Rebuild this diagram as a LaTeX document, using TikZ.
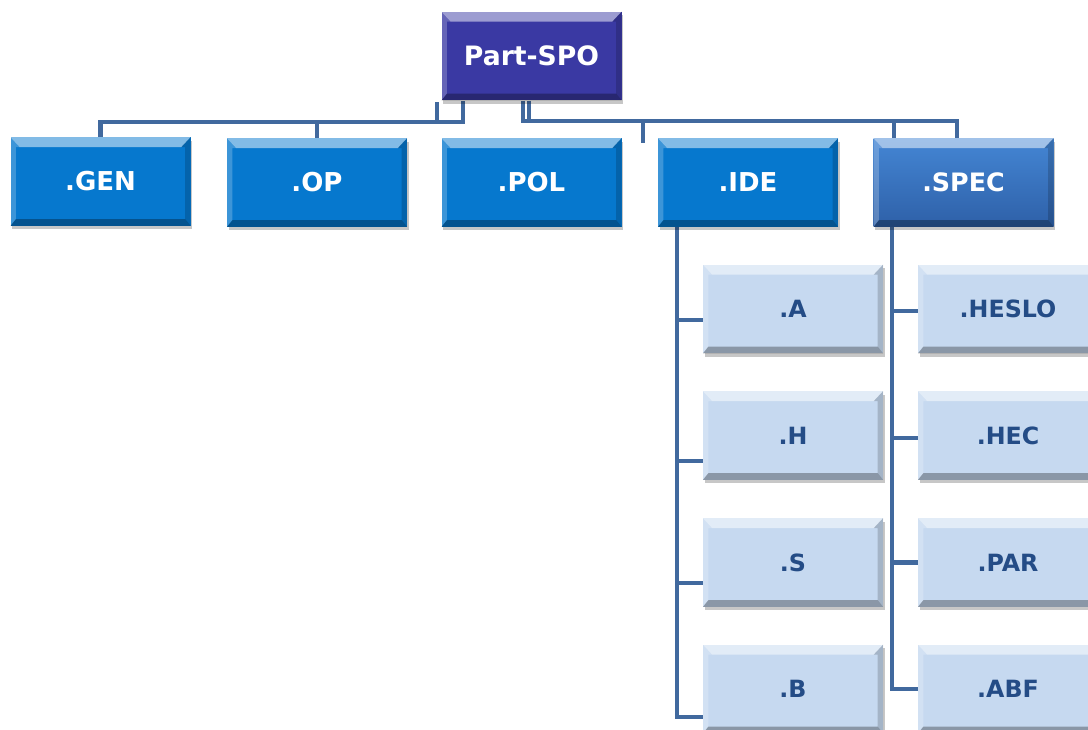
\documentclass[tikz,border=0pt]{standalone}
\usepackage{fontspec}
\setmainfont{DejaVu Sans}
\usetikzlibrary{shadows}
\pgfdeclarelayer{bg}
\pgfsetlayers{bg,main}
\definecolor{rootc}{RGB}{58,57,163}
\definecolor{midc}{RGB}{6,120,206}
\definecolor{spectop}{RGB}{68,134,212}
\definecolor{specbot}{RGB}{46,96,168}
\definecolor{leafc}{RGB}{198,217,240}
\definecolor{leaftext}{RGB}{36,76,134}
\definecolor{linec}{RGB}{65,105,158}
\tikzset{
  conn/.style={draw=linec, line width=3.4pt},
  bevel/.style={path picture={
    \path (path picture bounding box.north west) coordinate (pNW)
          (path picture bounding box.south east) coordinate (pSE);
    \path (pNW -| pSE) coordinate (pNE) (pNW |- pSE) coordinate (pSW);
    \path ([shift={(7pt,-7.5pt)}]pNW) coordinate (qNW)
          ([shift={(-7pt,-7.5pt)}]pNE) coordinate (qNE)
          ([shift={(-4pt,5pt)}]pSE) coordinate (qSE)
          ([shift={(4pt,5pt)}]pSW) coordinate (qSW);
    \path ([shift={(4pt,-7.5pt)}]pNW) coordinate (rNW)
          ([shift={(-4pt,-7.5pt)}]pNE) coordinate (rNE);
    \fill[white,opacity=0.5] (pNW) -- (pNE) -- (qNE) -- (qNW) -- cycle;
    \fill[white,opacity=0.22] (pNW) -- (qNW) -- (rNW) -- (qSW) -- (pSW) -- cycle;
    \fill[black,opacity=0.17] (pNE) -- (qNE) -- (rNE) -- (qSE) -- (pSE) -- cycle;
    \fill[black,opacity=0.3] (pSW) -- (qSW) -- (qSE) -- (pSE) -- cycle;
  }},
  box/.style={rectangle, inner sep=0pt, minimum width=135pt, minimum height=66.5pt,
    bevel, font=\bfseries,
    drop shadow={shadow xshift=1.2pt, shadow yshift=-2.5pt, opacity=0.22, fill=black}},
  rootbox/.style={box, fill=rootc, text=white, font=\fontsize{20}{24}\selectfont\bfseries},
  midbox/.style={box, fill=midc, text=white, font=\fontsize{19.5}{23}\selectfont\bfseries},
  specbox/.style={box, top color=spectop, bottom color=specbot, text=white, font=\fontsize{19}{23}\selectfont\bfseries},
  leafbox/.style={box, fill=leafc, text=leaftext, font=\fontsize{17.8}{21}\selectfont\bfseries},
}
\begin{document}
\begin{tikzpicture}[x=0.75pt,y=-0.75pt]
\useasboundingbox (0,0) rectangle (1088,729);
\clip (0,0) rectangle (1088,729);

% boxes
\node[rootbox] (root) at (531.5,56) {Part-SPO};
\node[midbox] (gen) at (100.5,181.5) {.GEN};
\node[midbox] (op) at (317,182.5) {.OP};
\node[midbox] (pol) at (531.5,182.5) {.POL};
\node[midbox] (ide) at (748,182.5) {.IDE};
\node[specbox] (spec) at (963.5,182.5) {.SPEC};

\node[leafbox] (a) at (793,309) {.A};
\node[leafbox] (h) at (793,435.5) {.H};
\node[leafbox] (s) at (793,562.5) {.S};
\node[leafbox] (b) at (793,689) {.B};

\node[leafbox] (heslo) at (1008,309) {.HESLO};
\node[leafbox] (hec) at (1008,435.5) {.HEC};
\node[leafbox] (par) at (1008,562.5) {.PAR};
\node[leafbox] (abf) at (1008,689) {.ABF};

% bus coordinates
\coordinate (busL) at (463,122);
\coordinate (busL2) at (437,122);
\coordinate (tickL) at (437,102);
\coordinate (busR) at (523,121);
\coordinate (busR2) at (529,121);
\coordinate (busRend) at (957,121);
\coordinate (busR3) at (894,121);
\coordinate (stubT) at (643,121);
\coordinate (stubB) at (643,143);
\coordinate (ideX) at (677,0);
\coordinate (specX) at (892,0);

\begin{pgfonlayer}{bg}
\draw[conn] (gen.north) |- (busL) -- (busL |- root.south);
\draw[conn] (busL2) -- (tickL);
\draw[conn] (op.north) -- (op.north |- busL);
\draw[conn] (busR |- root.south) -- (busR) -- (busRend) -- (busRend |- spec.north);
\draw[conn] (busR2 |- root.south) -- (busR2);
\draw[conn] (busR3) -- (busR3 |- spec.north);
\draw[conn] (stubT) -- (stubB);

\draw[conn] (ide.south -| ideX) |- ([yshift=-21pt]b.west);
\draw[conn] ([yshift=-8.25pt]a.west -| ideX) -- ([yshift=-8.25pt]a.west);
\draw[conn] ([yshift=-19pt]h.west -| ideX) -- ([yshift=-19pt]h.west);
\draw[conn] ([yshift=-15.4pt]s.west -| ideX) -- ([yshift=-15.4pt]s.west);

\draw[conn] (spec.south -| specX) |- (abf.west);
\draw[conn] ([yshift=-1.5pt]heslo.west -| specX) -- ([yshift=-1.5pt]heslo.west);
\draw[conn] ([yshift=-2pt]hec.west -| specX) -- ([yshift=-2pt]hec.west);
\draw[conn] (par.west -| specX) -- (par.west);
\end{pgfonlayer}
\end{tikzpicture}
\end{document}
